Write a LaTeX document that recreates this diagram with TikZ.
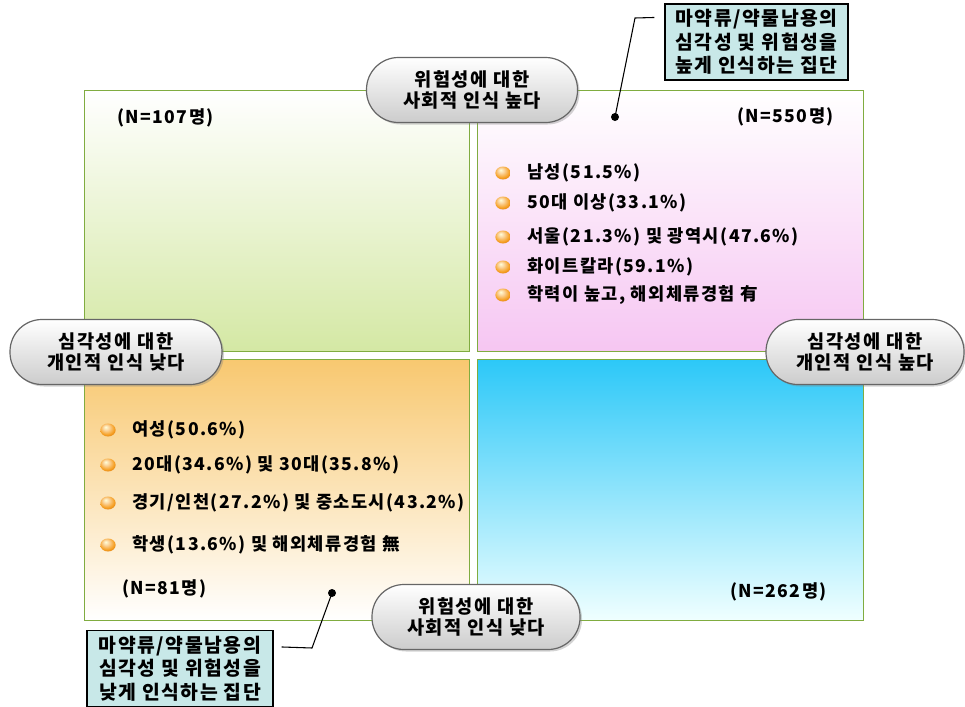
\documentclass[tikz,border=0pt]{standalone}
\usepackage{fontspec}
\setmainfont{Noto Sans CJK KR}[LetterSpace=8]
\usetikzlibrary{shadows,positioning,shapes.geometric}

\definecolor{quadline}{RGB}{128,172,64}
\definecolor{greenq}{RGB}{212,232,164}
\definecolor{pinkq}{RGB}{246,198,242}
\definecolor{orangeq}{RGB}{248,200,112}
\definecolor{cyanq}{RGB}{44,200,248}
\definecolor{callfill}{RGB}{200,232,232}
\definecolor{ballq}{RGB}{246,160,36}

\pgfdeclareradialshading{orangeball}{\pgfqpoint{-8bp}{12bp}}{color(0bp)=(white!85!yellow); color(10bp)=(ballq!45!white); color(24bp)=(ballq); color(38bp)=(orange!80!black); color(50bp)=(orange!55!black)}

\begin{document}
\begin{tikzpicture}
[x=0.75pt,y=-0.75pt,
quadrant/.style={draw=quadline,line width=0.8pt,anchor=north west,inner sep=0pt,minimum height=195.75pt},
pill/.style={draw=gray!80!black,line width=0.9pt,rounded corners=24pt,top color=white,bottom color=gray!40,drop shadow={opacity=0.35,shadow xshift=1.5pt,shadow yshift=-1.5pt},minimum height=48.75pt,align=center,inner sep=0pt,font=\bfseries\fontsize{14}{16}\selectfont},
callout/.style={draw=black,line width=0.8pt,fill=callfill,minimum height=57pt,align=center,inner sep=0pt,font=\bfseries\fontsize{14.5}{17.5}\selectfont},
ball/.style={ellipse,inner sep=0pt,minimum width=11.5pt,minimum height=9.75pt,shading=orangeball},
item/.style={anchor=west,inner sep=0pt,font=\bfseries\fontsize{13.2}{16}\selectfont},
count/.style={anchor=west,inner sep=0pt,font=\bfseries\fontsize{13.2}{16}\selectfont},
dot/.style={circle,fill=black,inner sep=0pt,minimum size=6pt},
leader/.style={-,line width=0.8pt}]

\useasboundingbox (0,0) rectangle (965,707);

% Drawing quadrants
\node[quadrant,minimum width=288.75pt,top color=white,bottom color=greenq] (tl) at (84,90) {};
\node[quadrant,minimum width=289.5pt,top color=white,bottom color=pinkq] (tr) at (477,90) {};
\node[quadrant,minimum width=288.75pt,top color=orangeq,bottom color=white] (bl) at (84,359) {};
\node[quadrant,minimum width=289.5pt,top color=cyanq,bottom color=white!94!cyan] (br) at (477,359) {};

% Group sizes
\node[count] (ntl) at (117,118) {(N=107명)};
\node[count] (ntr) at (737,117) {(N=550명)};
\node[count] (nbl) at (122,589) {(N=81명)};
\node[count] (nbr) at (730,592) {(N=262명)};

% Drawing items
\foreach \y/\t in {173/남성(51.5\%), 203/50대 이상(33.1\%), 237/{서울(21.3\%) 및 광역시(47.6\%)}, 267/화이트칼라(59.1\%), 295/{학력이 높고, 해외체류경험 有}} {
	\node[ball] (hb\y) at (503,\y) {};
	\node[item] (ht\y) at (527,\y) {\t};
}
\foreach \y/\t in {430/여성(50.6\%), 465/{20대(34.6\%) 및 30대(35.8\%)}, 503/{경기/인천(27.2\%) 및 중소도시(43.2\%)}, 545/{학생(13.6\%) 및 해외체류경험 無}} {
	\node[ball] (lb\y) at (108,\y) {};
	\node[item] (lt\y) at (132,\y) {\t};
}

% Drawing axis labels
\node[pill,minimum width=158.25pt] (risktop) at (472,90) {위험성에 대한\\사회적 인식 높다};
\node[pill,minimum width=156pt] (riskbot) at (476,617) {위험성에 대한\\사회적 인식 낮다};
\node[pill,minimum width=159pt] (seriousleft) at (116,352) {심각성에 대한\\개인적 인식 낮다};
\node[pill,minimum width=148.5pt] (seriousright) at (865,352) {심각성에 대한\\개인적 인식 높다};

% Drawing callouts
\node[callout,minimum width=137.25pt] (highgroup) at (756.5,42) {마약류/약물남용의\\심각성 및 위험성을\\높게 인식하는 집단};
\node[callout,minimum width=139.5pt] (lowgroup) at (180,668.5) {마약류/약물남용의\\심각성 및 위험성을\\낮게 인식하는 집단};

\coordinate (highend) at ([xshift=-7.5pt,yshift=-10.5pt]highgroup.north west);
\coordinate (highknee) at (635,18);
\node[dot] (highdot) at (615,117) {};
\draw[leader] (highend) -- (highknee) -- (highdot.center);

\coordinate (lowend) at ([xshift=6pt,yshift=-12.75pt]lowgroup.north east);
\coordinate (lowknee) at (312,648);
\node[dot] (lowdot) at (332,593) {};
\draw[leader] (lowend) -- (lowknee) -- (lowdot.center);
\end{tikzpicture}
\end{document}
